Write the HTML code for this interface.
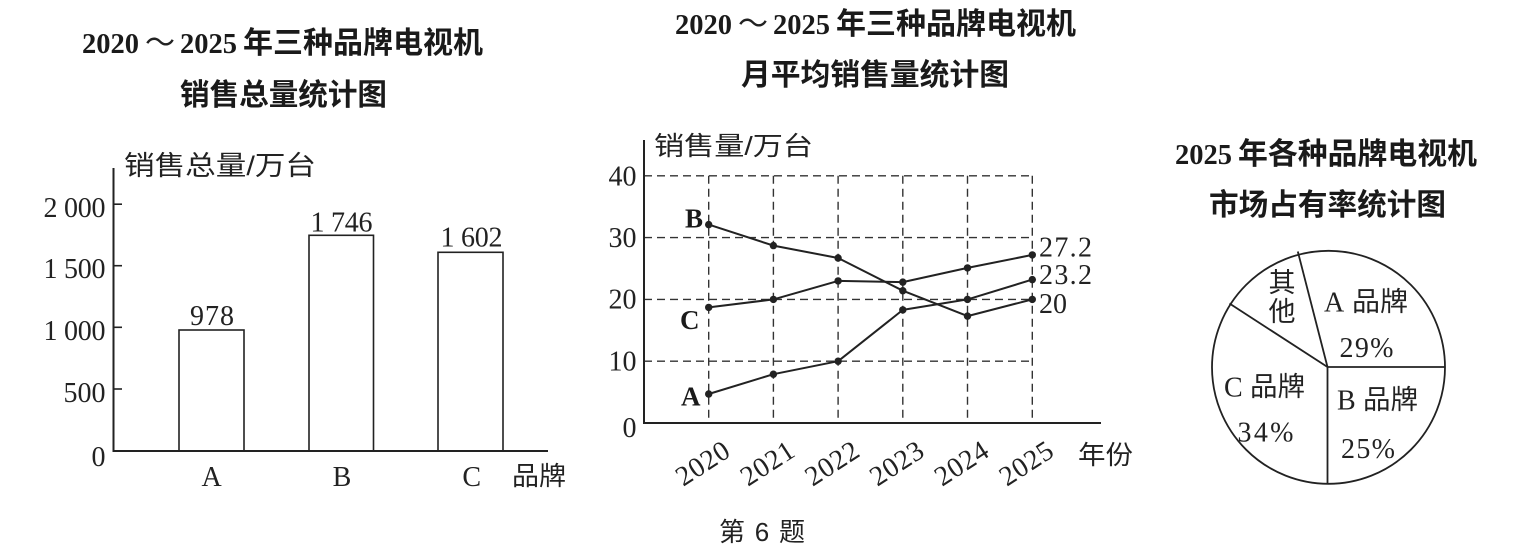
<!DOCTYPE html>
<html>
<head>
<meta charset="utf-8">
<style>
  html,body{margin:0;padding:0;background:#fff;}
  svg{display:block;}
  .sr{font-family:"Liberation Serif","Noto Serif CJK SC",serif;fill:#222;}
  .cj{font-family:"Liberation Sans","Noto Sans CJK SC",sans-serif;fill:#222;}
  .cjb{font-family:"Liberation Sans","Noto Sans CJK SC",sans-serif;fill:#1a1a1a;font-weight:700;}
  .srb{font-family:"Liberation Serif","Noto Serif CJK SC",serif;fill:#1a1a1a;font-weight:700;}
</style>
</head>
<body>
<svg width="1525" height="551" viewBox="0 0 1525 551" xmlns="http://www.w3.org/2000/svg">
  <rect x="0" y="0" width="1525" height="551" fill="#fff"/>

  <!-- ================= LEFT: BAR CHART ================= -->
  <text class="srb" x="82" y="53" font-size="29" textLength="57" lengthAdjust="spacingAndGlyphs">2020</text>
  <text class="cj" x="160" y="53" font-size="30" text-anchor="middle">～</text>
  <text class="srb" x="180" y="53" font-size="29" textLength="57" lengthAdjust="spacingAndGlyphs">2025</text>
  <text class="cjb" x="243" y="53" font-size="30" textLength="240" lengthAdjust="spacingAndGlyphs">年三种品牌电视机</text>
  <text class="cjb" x="180" y="105" font-size="30" textLength="207" lengthAdjust="spacingAndGlyphs">销售总量统计图</text>

  <text class="cj" x="124" y="175" font-size="27" textLength="192" lengthAdjust="spacingAndGlyphs">销售总量/万台</text>

  <line x1="113.5" y1="168" x2="113.5" y2="451" stroke="#222" stroke-width="2"/>
  <line x1="112.5" y1="451" x2="548" y2="451" stroke="#222" stroke-width="2"/>
  <g stroke="#222" stroke-width="1.6">
    <line x1="113.5" y1="204.2" x2="122" y2="204.2"/>
    <line x1="113.5" y1="265.7" x2="122" y2="265.7"/>
    <line x1="113.5" y1="327.3" x2="122" y2="327.3"/>
    <line x1="113.5" y1="389" x2="122" y2="389"/>
  </g>
  <g class="sr" font-size="28" text-anchor="end">
    <text x="105.5" y="217" textLength="62" lengthAdjust="spacing">2 000</text>
    <text x="105.5" y="278" textLength="62" lengthAdjust="spacing">1 500</text>
    <text x="105.5" y="340" textLength="62" lengthAdjust="spacing">1 000</text>
    <text x="105.5" y="402">500</text>
    <text x="105.5" y="466">0</text>
  </g>
  <g fill="none" stroke="#222" stroke-width="1.6">
    <rect x="179" y="330" width="65" height="121"/>
    <rect x="309" y="235.3" width="64.5" height="215.7"/>
    <rect x="438" y="252.3" width="65" height="198.7"/>
  </g>
  <g class="sr" font-size="28">
    <text x="190" y="325" textLength="44" lengthAdjust="spacing">978</text>
    <text x="310.5" y="231.5" textLength="62" lengthAdjust="spacing">1 746</text>
    <text x="440.5" y="246.5" textLength="62" lengthAdjust="spacing">1 602</text>
  </g>
  <g class="sr" font-size="28" text-anchor="middle">
    <text x="211.6" y="486">A</text>
    <text x="342" y="486">B</text>
    <text x="471.7" y="486">C</text>
  </g>
  <text class="cj" x="512" y="485" font-size="26" textLength="54" lengthAdjust="spacingAndGlyphs">品牌</text>

  <!-- ================= MIDDLE: LINE CHART ================= -->
  <text class="srb" x="675" y="34" font-size="29" textLength="57" lengthAdjust="spacingAndGlyphs">2020</text>
  <text class="cj" x="753" y="34" font-size="30" text-anchor="middle">～</text>
  <text class="srb" x="773" y="34" font-size="29" textLength="57" lengthAdjust="spacingAndGlyphs">2025</text>
  <text class="cjb" x="836" y="34" font-size="30" textLength="240" lengthAdjust="spacingAndGlyphs">年三种品牌电视机</text>
  <text class="cjb" x="741" y="85" font-size="30" textLength="268" lengthAdjust="spacingAndGlyphs">月平均销售量统计图</text>

  <text class="cj" x="654" y="155" font-size="26" textLength="159" lengthAdjust="spacingAndGlyphs">销售量/万台</text>

  <g stroke="#333" stroke-width="1.4" stroke-dasharray="8 5" fill="none">
    <line x1="644" y1="175.8" x2="1032.3" y2="175.8"/>
    <line x1="644" y1="237.6" x2="1032.3" y2="237.6"/>
    <line x1="644" y1="299.4" x2="1032.3" y2="299.4"/>
    <line x1="644" y1="361.2" x2="1032.3" y2="361.2"/>
    <line x1="708.7" y1="175.8" x2="708.7" y2="423"/>
    <line x1="773.4" y1="175.8" x2="773.4" y2="423"/>
    <line x1="838.1" y1="175.8" x2="838.1" y2="423"/>
    <line x1="902.8" y1="175.8" x2="902.8" y2="423"/>
    <line x1="967.5" y1="175.8" x2="967.5" y2="423"/>
    <line x1="1032.3" y1="175.8" x2="1032.3" y2="423"/>
  </g>
  <line x1="644" y1="140" x2="644" y2="423" stroke="#222" stroke-width="2"/>
  <line x1="643" y1="423" x2="1101" y2="423" stroke="#222" stroke-width="2"/>

  <g class="sr" font-size="28" text-anchor="end">
    <text x="636.5" y="185.5">40</text>
    <text x="636.5" y="247">30</text>
    <text x="636.5" y="308.5">20</text>
    <text x="636.5" y="370.5">10</text>
    <text x="636.5" y="437">0</text>
  </g>

  <g fill="none" stroke="#222" stroke-width="2" stroke-linejoin="round">
    <polyline points="708.7,224.6 773.4,245.6 838.1,258 902.8,290.7 967.5,316.1 1032.3,299.4"/>
    <polyline points="708.7,307.4 773.4,299.4 838.1,280.9 902.8,282.1 967.5,267.9 1032.3,254.9"/>
    <polyline points="708.7,394 773.4,374.2 838.1,361.2 902.8,309.9 967.5,299.4 1032.3,279.6"/>
  </g>
  <g fill="#222">
    <circle cx="708.7" cy="224.6" r="3.7"/><circle cx="773.4" cy="245.6" r="3.7"/><circle cx="838.1" cy="258" r="3.7"/>
    <circle cx="902.8" cy="290.7" r="3.7"/><circle cx="967.5" cy="316.1" r="3.7"/><circle cx="1032.3" cy="299.4" r="3.7"/>
    <circle cx="708.7" cy="307.4" r="3.7"/><circle cx="773.4" cy="299.4" r="3.7"/><circle cx="838.1" cy="280.9" r="3.7"/>
    <circle cx="902.8" cy="282.1" r="3.7"/><circle cx="967.5" cy="267.9" r="3.7"/><circle cx="1032.3" cy="254.9" r="3.7"/>
    <circle cx="708.7" cy="394" r="3.7"/><circle cx="773.4" cy="374.2" r="3.7"/><circle cx="838.1" cy="361.2" r="3.7"/>
    <circle cx="902.8" cy="309.9" r="3.7"/><circle cx="967.5" cy="299.4" r="3.7"/><circle cx="1032.3" cy="279.6" r="3.7"/>
  </g>

  <g class="srb" font-size="27">
    <text x="685" y="227.5">B</text>
    <text x="680" y="329">C</text>
    <text x="681" y="405.5">A</text>
  </g>
  <g class="sr" font-size="28">
    <text x="1039" y="256.5" textLength="53" lengthAdjust="spacing">27.2</text>
    <text x="1039" y="284" textLength="53" lengthAdjust="spacing">23.2</text>
    <text x="1039" y="313" textLength="28" lengthAdjust="spacing">20</text>
  </g>

  <g class="sr" font-size="28" text-anchor="middle">
    <text x="702.7" y="472.5" transform="rotate(-33 702.7 463.5)" textLength="58" lengthAdjust="spacing">2020</text>
    <text x="767.4" y="472.5" transform="rotate(-33 767.4 463.5)" textLength="58" lengthAdjust="spacing">2021</text>
    <text x="832.1" y="472.5" transform="rotate(-33 832.1 463.5)" textLength="58" lengthAdjust="spacing">2022</text>
    <text x="896.8" y="472.5" transform="rotate(-33 896.8 463.5)" textLength="58" lengthAdjust="spacing">2023</text>
    <text x="961.5" y="472.5" transform="rotate(-33 961.5 463.5)" textLength="58" lengthAdjust="spacing">2024</text>
    <text x="1026.3" y="472.5" transform="rotate(-33 1026.3 463.5)" textLength="58" lengthAdjust="spacing">2025</text>
  </g>
  <text class="cj" x="1078" y="464" font-size="26" textLength="55" lengthAdjust="spacingAndGlyphs">年份</text>

  <!-- ================= RIGHT: PIE CHART ================= -->
  <text class="srb" x="1175" y="164" font-size="29" textLength="57" lengthAdjust="spacingAndGlyphs">2025</text>
  <text class="cjb" x="1238" y="164" font-size="30" textLength="239" lengthAdjust="spacingAndGlyphs">年各种品牌电视机</text>
  <text class="cjb" x="1209" y="215" font-size="30" textLength="237" lengthAdjust="spacingAndGlyphs">市场占有率统计图</text>

  <g fill="none" stroke="#222" stroke-width="1.8">
    <circle cx="1328.5" cy="367.3" r="116.5"/>
    <line x1="1327.5" y1="367" x2="1445" y2="367"/>
    <line x1="1327.5" y1="367" x2="1327.5" y2="484"/>
    <line x1="1327.5" y1="367" x2="1297.8" y2="251.5"/>
    <line x1="1327.5" y1="367" x2="1229.5" y2="303.5"/>
  </g>

  <g class="cj" font-size="27" text-anchor="middle">
    <text x="1282" y="292">其</text>
    <text x="1282" y="321">他</text>
  </g>
  <text class="sr" x="1324" y="311.5" font-size="28">A</text>
  <text class="cj" x="1352" y="311" font-size="27" textLength="56" lengthAdjust="spacingAndGlyphs">品牌</text>
  <text class="sr" x="1339.5" y="357" font-size="28" textLength="54" lengthAdjust="spacing">29%</text>

  <text class="sr" x="1224" y="396.5" font-size="28">C</text>
  <text class="cj" x="1250" y="396" font-size="27" textLength="55" lengthAdjust="spacingAndGlyphs">品牌</text>
  <text class="sr" x="1237.5" y="441.5" font-size="28" textLength="56" lengthAdjust="spacing">34%</text>

  <text class="sr" x="1337" y="409.5" font-size="28">B</text>
  <text class="cj" x="1363" y="409" font-size="27" textLength="55" lengthAdjust="spacingAndGlyphs">品牌</text>
  <text class="sr" x="1341" y="458" font-size="28" textLength="54" lengthAdjust="spacing">25%</text>

  <text class="cj" x="719" y="541" font-size="26" textLength="86" lengthAdjust="spacing">第 6 题</text>
</svg>
</body>
</html>
